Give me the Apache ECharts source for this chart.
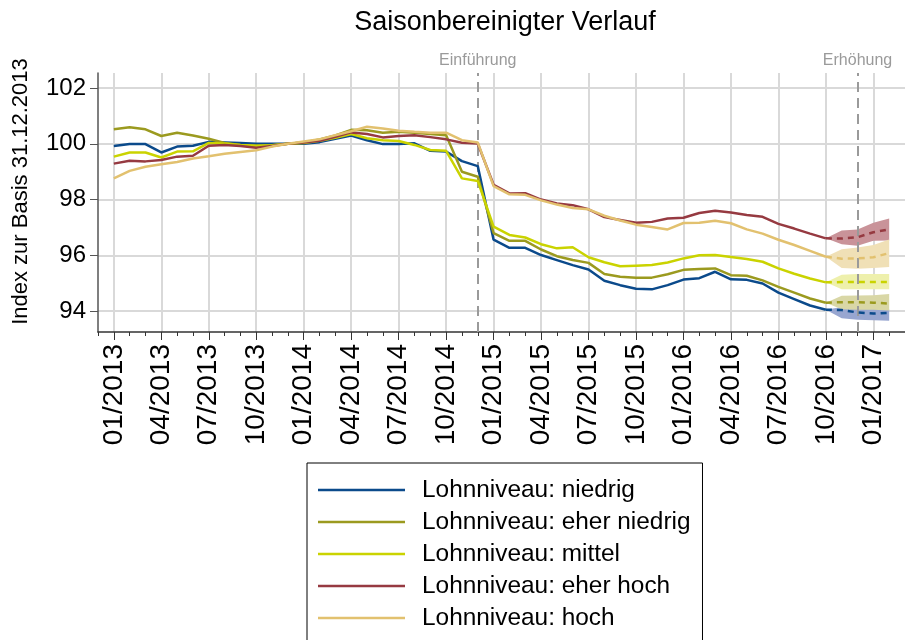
<!DOCTYPE html>
<html><head><meta charset="utf-8">
<script src="https://cdn.jsdelivr.net/npm/echarts@6/dist/echarts.min.js"></script>
<style>html,body{margin:0;padding:0;background:#fff}#c{width:905px;height:640px}</style>
</head><body><div id="c"></div>
<script>
// ---- categories (monthly) ----
const months = ['12/2012',
  '01/2013','02/2013','03/2013','04/2013','05/2013','06/2013','07/2013','08/2013','09/2013','10/2013','11/2013','12/2013',
  '01/2014','02/2014','03/2014','04/2014','05/2014','06/2014','07/2014','08/2014','09/2014','10/2014','11/2014','12/2014',
  '01/2015','02/2015','03/2015','04/2015','05/2015','06/2015','07/2015','08/2015','09/2015','10/2015','11/2015','12/2015',
  '01/2016','02/2016','03/2016','04/2016','05/2016','06/2016','07/2016','08/2016','09/2016','10/2016','11/2016','12/2016',
  '01/2017','02/2017','03/2017'];
const actualStart = '01/2013';
const forecastStart = '10/2016';
const eventMonths = ['12/2014', '12/2016'];
const eventLabels = ['Einführung', 'Erhöhung'];
const yTicks = [94, 96, 98, 100, 102];

const seriesNames = ['Lohnniveau: niedrig','Lohnniveau: eher niedrig','Lohnniveau: mittel','Lohnniveau: eher hoch','Lohnniveau: hoch'];

// ---- actual values 01/2013 .. 10/2016 ----
const niedrig = [99.92,99.99,99.99,99.69,99.90,99.93,100.07,100.05,100.03,100.00,100.00,100.00,
  100.00,100.06,100.18,100.30,100.13,99.99,99.99,100.02,99.75,99.72,99.38,99.20,
  96.56,96.27,96.27,96.01,95.83,95.65,95.49,95.09,94.93,94.80,94.78,94.93,
  95.13,95.18,95.41,95.14,95.12,94.99,94.66,94.43,94.20,94.05];
const eherNiedrig = [100.52,100.59,100.52,100.28,100.40,100.30,100.18,100.03,99.96,99.93,99.95,100.00,
  100.05,100.16,100.30,100.50,100.49,100.40,100.43,100.40,100.35,100.31,99.00,98.82,
  96.80,96.52,96.52,96.21,95.97,95.83,95.73,95.33,95.23,95.20,95.20,95.32,
  95.48,95.51,95.53,95.29,95.27,95.10,94.87,94.66,94.45,94.30];
const mittel = [99.54,99.69,99.69,99.51,99.72,99.73,100.03,100.01,99.96,99.93,99.95,100.00,
  100.03,100.11,100.22,100.35,100.20,100.13,100.10,99.96,99.78,99.75,98.76,98.67,
  97.03,96.73,96.64,96.40,96.25,96.29,95.93,95.75,95.61,95.63,95.65,95.74,
  95.89,96.00,96.01,95.94,95.87,95.77,95.53,95.34,95.17,95.03];
const eherHoch = [99.29,99.39,99.37,99.42,99.54,99.57,99.93,99.96,99.92,99.86,99.92,100.00,
  100.05,100.11,100.25,100.41,100.35,100.23,100.28,100.31,100.24,100.16,100.04,100.01,
  98.53,98.22,98.23,98.00,97.86,97.80,97.65,97.37,97.27,97.17,97.20,97.32,
  97.35,97.52,97.60,97.54,97.45,97.38,97.13,96.96,96.78,96.61];
const hoch = [98.76,99.03,99.18,99.27,99.35,99.47,99.55,99.64,99.71,99.77,99.90,100.00,
  100.08,100.16,100.31,100.45,100.61,100.55,100.47,100.43,100.40,100.40,100.13,100.05,
  98.48,98.19,98.17,97.97,97.82,97.70,97.65,97.42,97.25,97.10,97.02,96.93,
  97.16,97.17,97.24,97.15,96.93,96.78,96.56,96.37,96.16,95.95];

// ---- forecasts 10/2016 .. 02/2017 (center, lower, upper) ----
const fcNiedrig = [94.05,94.04,93.95,93.91,93.94];
const loNiedrig = [94.05,93.74,93.69,93.67,93.65];
const hiNiedrig = [94.05,94.15,94.12,94.08,94.07];
const fcEherNiedrig = [94.30,94.32,94.32,94.30,94.27];
const loEherNiedrig = [94.30,94.07,94.05,94.05,94.02];
const hiEherNiedrig = [94.30,94.55,94.56,94.57,94.61];
const fcMittel = [95.03,95.04,95.04,95.04,95.04];
const loMittel = [95.03,94.78,94.78,94.78,94.78];
const hiMittel = [95.03,95.30,95.33,95.33,95.33];
const fcEherHoch = [96.61,96.60,96.65,96.83,96.93];
const loEherHoch = [96.61,96.40,96.34,96.52,96.53];
const hiEherHoch = [96.61,96.89,96.93,97.17,97.32];
const fcHoch = [95.95,95.88,95.89,95.93,96.08];
const loHoch = [95.95,95.55,95.52,95.55,95.58];
const hiHoch = [95.95,96.22,96.28,96.37,96.57];

const lineColors = ['#0b4a8b','#9b9a1f','#cad300','#963a41','#e2c16f'];
const bandColors = ['#98a6d0','#d9d7a6','#eef0ac','#c99399','#f0e0b6'];

const actuals = [niedrig, eherNiedrig, mittel, eherHoch, hoch];
const fcs = [fcNiedrig, fcEherNiedrig, fcMittel, fcEherHoch, fcHoch];
const los = [loNiedrig, loEherNiedrig, loMittel, loEherHoch, loHoch];
const his = [hiNiedrig, hiEherNiedrig, hiMittel, hiEherHoch, hiHoch];

function pad(arr, startLabel) {
  const s = months.indexOf(startLabel);
  return months.map((m, i) => (i >= s && i < s + arr.length) ? arr[i - s] : '-');
}
const FONT = 'Liberation Sans, Arial, sans-serif';
const isMajor = (idx) => idx % 3 === 1;

const series = [];
// bands
for (let k = 0; k < 5; k++) {
  series.push({
    name: 'lo' + k, type: 'line', stack: 'band' + k, symbol: 'none', silent: true, z: 1,
    lineStyle: { opacity: 0 }, data: pad(los[k], forecastStart)
  });
  series.push({
    name: 'band' + k, type: 'line', stack: 'band' + k, symbol: 'none', silent: true, z: 1,
    lineStyle: { opacity: 0 }, areaStyle: { color: bandColors[k], opacity: 1 },
    data: pad(his[k].map((v, i) => +(v - los[k][i]).toFixed(3)), forecastStart)
  });
}
// actual lines
for (let k = 0; k < 5; k++) {
  const s = {
    name: seriesNames[k], type: 'line', symbol: 'none', z: 3,
    color: lineColors[k], lineStyle: { width: 2.5, color: lineColors[k] },
    data: pad(actuals[k], actualStart)
  };
  if (k === 0) {
    s.markLine = {
      silent: true, symbol: 'none', z: 2,
      lineStyle: { color: '#9a9a9a', type: [10, 6], width: 2 },
      label: { position: 'end', color: '#9a9a9a', fontSize: 16, fontFamily: FONT, distance: 4 },
      data: eventMonths.map((m, i) => ({ xAxis: m, label: { formatter: eventLabels[i] } }))
    };
  }
  series.push(s);
}
// forecast dashed
for (let k = 0; k < 5; k++) {
  series.push({
    name: 'fc' + k, type: 'line', symbol: 'none', z: 3,
    lineStyle: { width: 2.5, color: lineColors[k], type: [6, 5] },
    data: pad(fcs[k], forecastStart)
  });
}

const chart = echarts.init(document.getElementById('c'), null, { renderer: 'canvas' });
chart.setOption({
  animation: false,
  backgroundColor: '#fff',
  title: {
    text: 'Saisonbereinigter Verlauf', left: 500, top: 4, textAlign: 'center',
    textStyle: { fontFamily: FONT, fontSize: 27, fontWeight: 'normal', color: '#000' }
  },
  grid: { left: 98, right: -3, top: 73, bottom: 308, containLabel: false },
  legend: {
    type: 'plain', data: seriesNames, orient: 'vertical', left: 307, top: 463, height: 260,
    padding: [15, 12, 16, 11], borderColor: '#000', borderWidth: 1,
    icon: 'rect', itemWidth: 87, itemHeight: 2.5, itemGap: 8,
    textStyle: { fontFamily: FONT, fontSize: 24.4, lineHeight: 24, color: '#000', padding: [0, 0, 0, 12] }
  },
  xAxis: [
    {
      type: 'category', data: months, boundaryGap: false, position: 'bottom',
      axisLine: { show: true, lineStyle: { color: '#333', width: 1.5 } },
      axisTick: { show: true, interval: 0, length: 4, lineStyle: { color: '#333' } },
      axisLabel: { show: false }, splitLine: { show: false }
    },
    {
      type: 'category', data: months, boundaryGap: false, position: 'bottom', offset: 0,
      axisLine: { show: false },
      axisTick: { show: true, interval: isMajor, length: 8, lineStyle: { color: '#333' } },
      axisLabel: { show: true, interval: isMajor, rotate: 90, margin: 12, fontSize: 28, fontFamily: FONT, color: '#000' },
      splitLine: { show: true, interval: isMajor, lineStyle: { color: '#d9d9d9', width: 2 } }
    }
  ],
  yAxis: {
    type: 'value', min: 93.25, max: 102.54,
    name: 'Index zur Basis 31.12.2013', nameLocation: 'middle', nameGap: 66,
    nameTextStyle: { fontFamily: FONT, fontSize: 22, color: '#000', padding: [0, 0, 0, 22] },
    axisLine: { show: true, lineStyle: { color: '#555', width: 1.5 } },
    axisTick: { show: true, length: 8, lineStyle: { color: '#555' }, customValues: yTicks },
    axisLabel: { fontSize: 24, fontFamily: FONT, color: '#000', margin: 12, customValues: yTicks },
    splitLine: { show: true, lineStyle: { color: '#d9d9d9', width: 2 } }
  },
  series: series
});
</script></body></html>
